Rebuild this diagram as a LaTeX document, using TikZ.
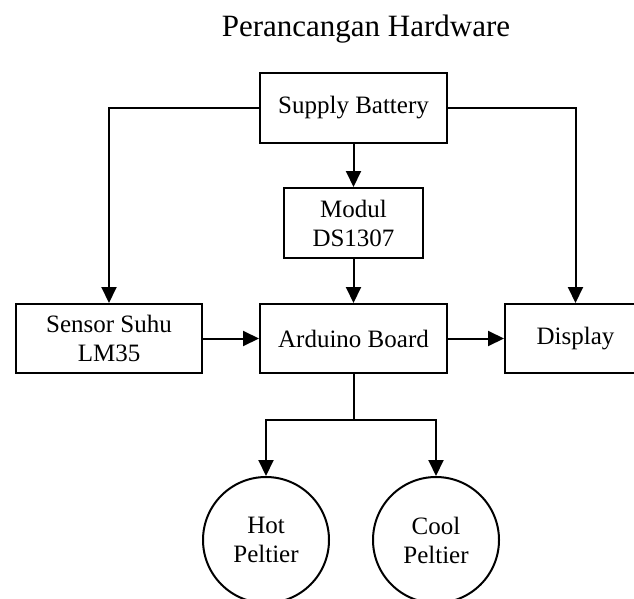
\documentclass[tikz,border=0pt]{standalone}
\usepackage{fontspec}
\setmainfont{Liberation Serif}
\usetikzlibrary{arrows.meta}
\begin{document}
\begin{tikzpicture}[x=1pt,y=-1pt,
  boxtext/.style={font=\fontsize{25}{29}\selectfont, align=center, inner sep=0pt},
  blk/.style={boxtext, draw, line width=2pt},
  circ/.style={boxtext, draw, circle, line width=2pt, minimum size=126pt},
  arr/.style={line width=2pt, -{Triangle[length=16pt,width=15pt]}},
  ln/.style={line width=2pt}]
\useasboundingbox (0,0) rectangle (634,599);
\node[font=\fontsize{31}{35}\selectfont, anchor=base, inner sep=0pt] (title) at (366,37) {Perancangan Hardware};
\node[blk, minimum width=187pt, minimum height=70pt] (sup) at (353.5,108) {Supply Battery};
\node[blk, minimum width=139pt, minimum height=70pt] (mod) at (353.5,223) {Modul\\DS1307};
\node[blk, minimum width=187pt, minimum height=69pt] (ard) at (353.5,338.5) {Arduino Board};
\node[blk, minimum width=186pt, minimum height=69pt] (sen) at (109,338.5) {Sensor Suhu\\LM35};
\node[blk, minimum width=141pt, minimum height=69pt] (dis) at (575.5,338.5) {Display};
\node[circ] (hot) at (266,540) {Hot\\Peltier};
\node[circ] (cool) at (436,540) {Cool\\Peltier};
\coordinate (j) at (353.5,420);
\draw[arr] (sup.west) -| (sen.north);
\draw[arr] (sup.east) -| (dis.north);
\draw[arr] (sup.south) -- (mod.north);
\draw[arr] (mod.south) -- (ard.north);
\draw[arr] (sen.east) -- (ard.west);
\draw[arr] (ard.east) -- (dis.west);
\draw[ln] (ard.south) -- (j);
\draw[arr] (j) -| (hot.north);
\draw[arr] (j) -| (cool.north);
\end{tikzpicture}
\end{document}
